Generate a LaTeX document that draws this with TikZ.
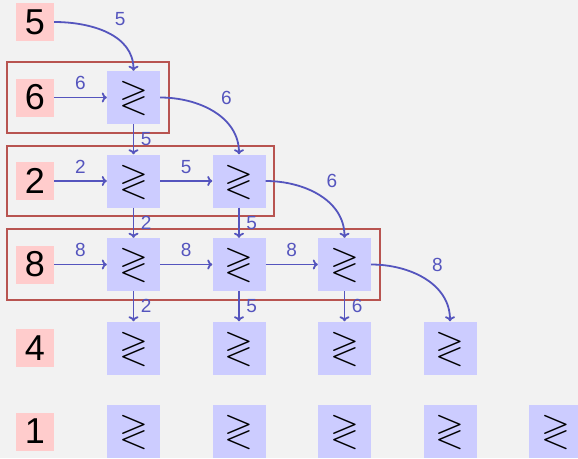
\documentclass[tikz,border=0pt]{standalone}
\usepackage{amssymb}
\usepackage{fontspec}
\setmainfont{Liberation Sans}
\usetikzlibrary{arrows.meta,fit}
\definecolor{bgc}{RGB}{242,242,242}
\definecolor{pinkc}{RGB}{255,204,204}
\definecolor{bluec}{RGB}{204,204,255}
\definecolor{arrowc}{RGB}{85,85,190}
\definecolor{redc}{RGB}{184,84,80}
\tikzset{
  numbox/.style={fill=pinkc, minimum width=38pt, minimum height=38pt, inner sep=0pt,
    font=\fontsize{36}{36}\selectfont},
  cmpbox/.style={fill=bluec, minimum width=53pt, minimum height=53pt, inner sep=0pt,
    font=\fontsize{37}{37}\selectfont},
  flow/.style={draw=arrowc, line width=1.8pt, -{To[length=5pt,width=10pt]}},
  lbl/.style={text=arrowc, inner sep=6.5pt, font=\fontsize{19}{19}\selectfont},
  grp/.style={draw=redc, line width=2pt, inner sep=8.5pt}
}
\begin{document}
\begin{tikzpicture}[x=1pt,y=1pt]
\fill[bgc] (0,0) rectangle (578,-458);
\useasboundingbox (0,0) rectangle (578,-458);
\clip (0,0) rectangle (578,-458);
% number boxes
\foreach \r/\y/\v in {1/22/5,2/97.5/6,3/181/2,4/264.5/8,5/348/4,6/431.5/1}
  \node[numbox] (p\r) at (35,-\y) {\v};
% comparator boxes
\foreach \r/\y/\n in {2/97.5/1,3/181/2,4/264.5/3,5/348/4,6/431.5/5}
  \foreach \c in {1,...,\n}
    \node[cmpbox] (b\r\c) at ({133.5+(\c-1)*105.5},-\y) {$\gtrless$};
% groups
\node[grp, fit=(p2)(b21)] (g2) {};
\node[grp, fit=(p3)(b32)] (g3) {};
\node[grp, fit=(p4)(b43)] (g4) {};
% connectors
\draw[flow] (p1.east) to[out=0,in=90] node[lbl,above right]{5} (b21.north);
\draw[flow] (p2) -- node[lbl,above]{6} (b21);
\draw[flow] (b21) -- node[lbl,right]{5} (b31);
\draw[flow] (b21.east) to[out=0,in=90] node[lbl,above right]{6} (b32.north);
\draw[flow] (p3) -- node[lbl,above]{2} (b31);
\draw[flow] (b31) -- node[lbl,above]{5} (b32);
\draw[flow] (b31) -- node[lbl,right]{2} (b41);
\draw[flow] (b32) -- node[lbl,right]{5} (b42);
\draw[flow] (b32.east) to[out=0,in=90] node[lbl,above right]{6} (b43.north);
\draw[flow] (p4) -- node[lbl,above]{8} (b41);
\draw[flow] (b41) -- node[lbl,above]{8} (b42);
\draw[flow] (b42) -- node[lbl,above]{8} (b43);
\draw[flow] (b41) -- node[lbl,right]{2} (b51);
\draw[flow] (b42) -- node[lbl,right]{5} (b52);
\draw[flow] (b43) -- node[lbl,right]{6} (b53);
\draw[flow] (b43.east) to[out=0,in=90] node[lbl,above right]{8} (b54.north);
\end{tikzpicture}
\end{document}
